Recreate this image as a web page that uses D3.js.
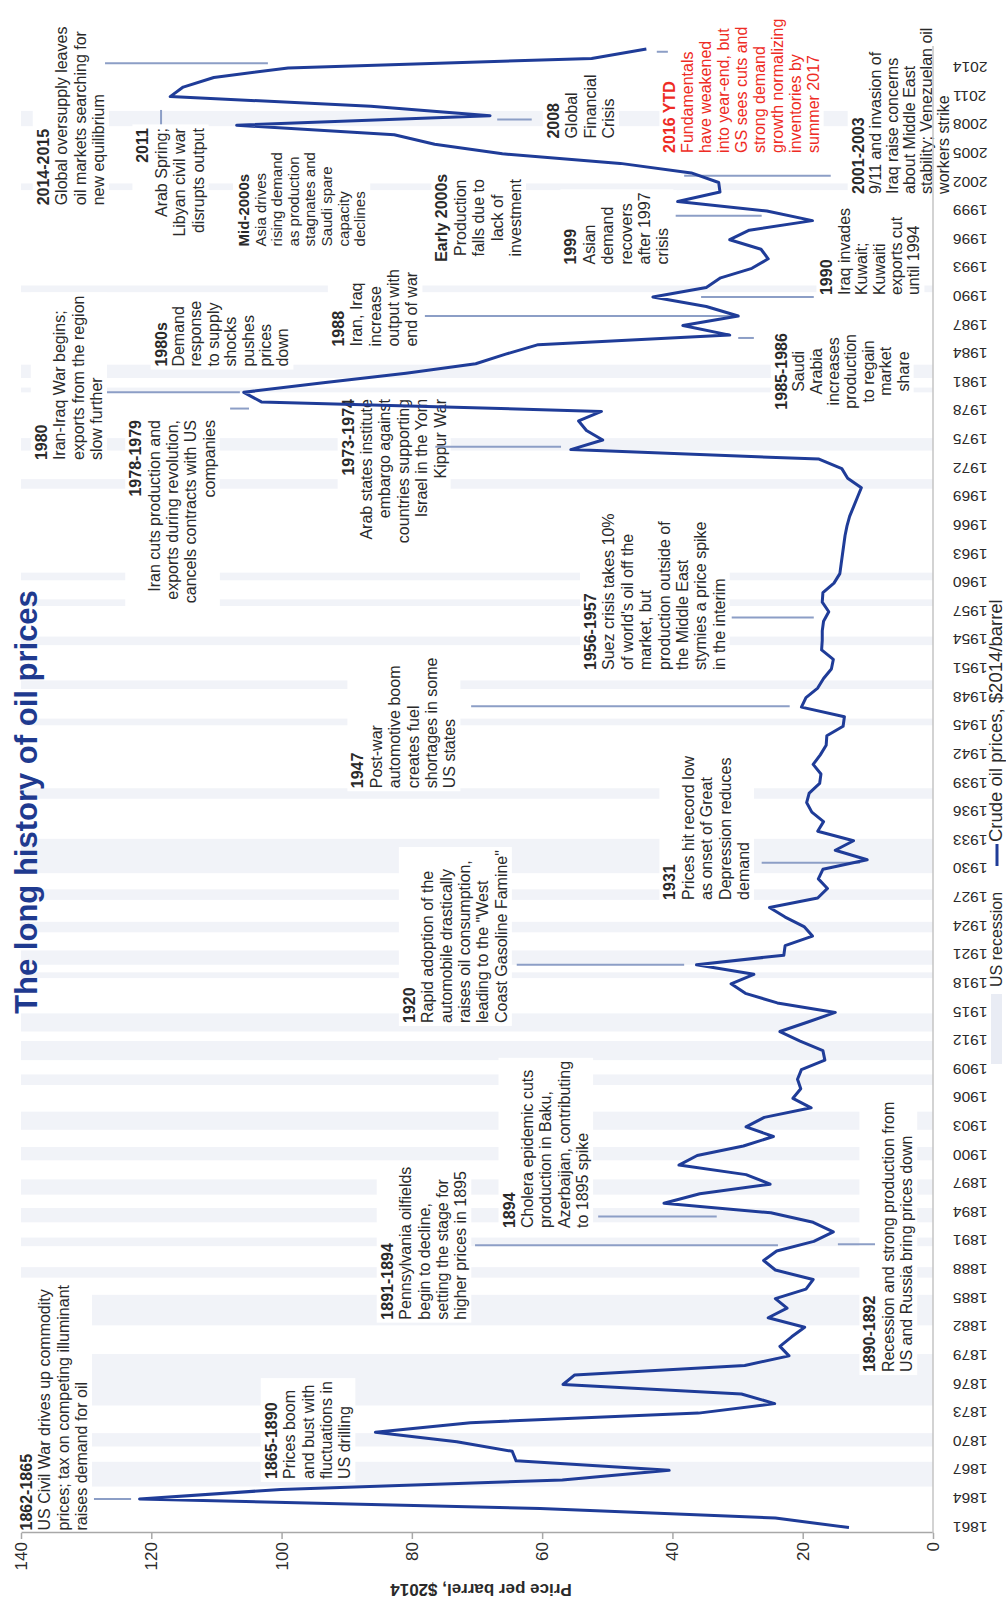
<!DOCTYPE html>
<html>
<head>
<meta charset="utf-8">
<script src="https://cdn.jsdelivr.net/npm/d3@7"></script>
<style>
  body { margin: 0; background: #fff; }
  svg { display: block; }
  text { font-family: "Liberation Sans", Arial, sans-serif; }
</style>
</head>
<body>
<svg id="chart" width="1006" height="1604"></svg>
<script>
// Crude oil prices in 2014 dollars per barrel, one value per year
const years = d3.range(1861, 2017);
const prices = [
  12.9, 24.2, 60.3, 121.8, 100.1, 56.9, 40.5, 64.0, 64.6, 73.1,      // 1861-1870
  85.6, 71.0, 36.0, 24.3, 29.4, 56.8, 55.0, 28.9, 22.1, 23.5,        // 1871-1880
  21.7, 19.7, 25.3, 22.4, 24.2, 19.5, 18.4, 24.2, 26.0, 24.0,        // 1881-1890
  18.3, 15.3, 18.4, 24.9, 41.3, 35.8, 25.0, 28.7, 39.0, 36.2,        // 1891-1900
  29.1, 24.5, 28.7, 25.9, 18.7, 21.5, 20.3, 20.8, 20.2, 16.6,        // 1901-1910
  16.9, 20.4, 23.5, 19.2, 15.0, 23.9, 28.8, 31.0, 27.5, 36.3,        // 1911-1920
  22.9, 22.7, 18.5, 19.8, 22.7, 25.1, 17.7, 16.2, 17.6, 16.9,        // 1921-1930
  10.1, 15.0, 12.2, 17.7, 16.8, 18.6, 19.4, 19.0, 17.4, 17.2,        // 1931-1940
  18.4, 17.3, 16.4, 16.3, 13.8, 13.6, 20.2, 19.5, 17.7, 16.8,        // 1941-1950
  15.6, 15.3, 17.1, 17.0, 17.0, 16.8, 16.0, 17.0, 16.9, 15.2,        // 1951-1960
  14.3, 14.1, 13.9, 13.7, 13.5, 13.2, 12.8, 12.2, 11.6, 11.0,        // 1961-1970
  13.1, 14.0, 17.5, 55.6, 50.7, 53.2, 54.4, 50.9, 103.1, 105.8,      // 1971-1980
  93.6, 80.9, 70.2, 65.6, 60.6, 31.2, 38.4, 29.9, 34.8, 43.0,        // 1981-1990
  34.8, 32.6, 27.8, 25.3, 26.4, 31.2, 28.2, 18.5, 25.5, 39.2,        // 1991-2000
  32.7, 32.9, 37.1, 48.0, 66.1, 76.5, 82.7, 106.9, 68.0, 86.3,       // 2001-2010
  117.1, 115.1, 110.4, 99.0, 52.4, 44.0                              // 2011-2016
];

const yearTicks = d3.range(1861, 2015, 3);
const priceTicks = [0, 20, 40, 60, 80, 100, 120, 140];

// US recession periods (fractional years)
const recessionStart = [1865.3, 1869.5, 1873.8, 1882.2, 1887.2, 1890.5, 1893.0, 1895.9, 1899.5, 1902.7,
  1907.4, 1910.0, 1913.0, 1918.6, 1920.0, 1923.4, 1926.8, 1929.6, 1937.4, 1945.1, 1948.9, 1953.5,
  1957.6, 1960.3, 1969.9, 1973.9, 1980.0, 1981.5, 1990.5, 2001.2, 2007.9];
const recessionEnd = [1867.9, 1870.9, 1879.2, 1885.4, 1888.3, 1891.4, 1894.5, 1897.5, 1900.9, 1904.6,
  1908.5, 1912.0, 1914.9, 1919.2, 1921.5, 1924.5, 1927.9, 1933.2, 1938.5, 1945.8, 1949.8, 1954.4,
  1958.3, 1961.1, 1970.9, 1975.2, 1980.5, 1982.9, 1991.2, 2001.9, 2009.5];

// Event notes: text lines, anchor in (year, price) space, alignment
const notes = [
  { lines: ["2014-2015", "Global oversupply leaves", "oil markets searching for", "new equilibrium"], at: [1999.6, 136.6], anchor: "start" },
  { lines: ["2011", "Arab Spring;", "Libyan civil war", "disrupts output"], at: [2007.7, 121.3], anchor: "end" },
  { lines: ["Mid-2000s", "Asia drives", "rising demand", "as production", "stagnates and", "Saudi spare", "capacity", "declines"], at: [1995.3, 105.8], anchor: "start", fs: 15, lh: 16.6 },
  { lines: ["1980s", "Demand", "response", "to supply", "shocks", "pushes", "prices", "down"], at: [1982.7, 118.5], anchor: "start", lh: 17.4 },
  { lines: ["1988", "Iran, Iraq", "increase", "output with", "end of war"], at: [1984.8, 91.3], anchor: "start" },
  { lines: ["Early 2000s", "Production", "falls due to", "lack of", "investment"], at: [1998.3, 75.4], anchor: "middle" },
  { lines: ["1999", "Asian", "demand", "recovers", "after 1997", "crisis"], at: [1993.4, 55.6], anchor: "start" },
  { lines: ["2008", "Global", "Financial", "Crisis"], at: [2006.6, 58.3], anchor: "start" },
  { lines: ["2016 YTD", "Fundamentals", "have weakened", "into year-end, but", "GS sees cuts and", "strong demand", "growth normalizing", "inventories by", "summer 2017"], at: [2005.1, 40.4], anchor: "start", color: "#ee2b24", lh: 17.9 },
  { lines: ["2001-2003", "9/11 and invasion of", "Iraq raise concerns", "about Middle East", "stability; Venezuelan oil", "workers strike"], at: [2000.8, 11.5], anchor: "start", lh: 17.0 },
  { lines: ["1990", "Iraq invades", "Kuwait;", "Kuwaiti", "exports cut", "until 1994"], at: [1990.2, 16.3], anchor: "start", lh: 17.4 },
  { lines: ["1985-1986", "Saudi", "Arabia", "increases", "production", "to regain", "market", "share"], at: [1982.2, 23.3], anchor: "middle", lh: 17.4 },
  { lines: ["1980", "Iran-Iraq War begins;", "exports from the region", "slow further"], at: [1972.9, 136.9], anchor: "start" },
  { lines: ["1978-1979", "Iran cuts production and", "exports during revolution,", "cancels contracts with US", "companies"], at: [1977.1, 122.4], anchor: "end" },
  { lines: ["1973-1974", "Arab states institute", "embargo against", "countries supporting", "Israel in the Yom", "Kippur War"], at: [1979.3, 89.8], anchor: "end" },
  { lines: ["1947", "Post-war", "automotive boom", "creates fuel", "shortages in some", "US states"], at: [1938.5, 88.3], anchor: "start" },
  { lines: ["1956-1957", "Suez crisis takes 10%", "of world's oil off the", "market, but", "production outside of", "the Middle East", "stymies a price spike", "in the interim"], at: [1950.9, 52.6], anchor: "start" },
  { lines: ["1931", "Prices hit record low", "as onset of Great", "Depression reduces", "demand"], at: [1926.8, 40.4], anchor: "start" },
  { lines: ["1920", "Rapid adoption of the", "automobile drastically", "raises oil consumption,", "leading to the \"West", "Coast Gasoline Famine\""], at: [1913.9, 80.4], anchor: "start" },
  { lines: ["1891-1894", "Pennsylvania oilfields", "begin to decline,", "setting the stage for", "higher prices in 1895"], at: [1882.8, 83.8], anchor: "start" },
  { lines: ["1894", "Cholera epidemic cuts", "production in Baku,", "Azerbaijan, contributing", "to 1895 spike"], at: [1892.4, 65.1], anchor: "start" },
  { lines: ["1890-1892", "Recession and strong production from", "US and Russia bring prices down"], at: [1877.3, 9.7], anchor: "start" },
  { lines: ["1862-1865", "US Civil War drives up commodity", "prices; tax on competing illuminant", "raises demand for oil"], at: [1860.7, 139.2], anchor: "start" },
  { lines: ["1865-1890", "Prices boom", "and bust with", "fluctuations in", "US drilling"], at: [1866.1, 101.6], anchor: "start" }
];

// Leader lines: [year1, price1, year2, price2]
const leaders = [
  [2014.5, 127.1, 2014.5, 102.1],
  [2008.1, 118.5, 2009.6, 118.5],
  [1988.0, 78.0, 1988.0, 30.1],
  [1998.5, 39.5, 1998.5, 26.3],
  [2008.6, 66.9, 2008.6, 61.6],
  [2015.7, 42.4, 2015.7, 40.7],
  [2002.7, 38.2, 2002.7, 15.7],
  [1990.0, 35.6, 1990.0, 18.3],
  [1985.7, 29.9, 1985.7, 27.5],
  [1980.0, 126.8, 1980.0, 106.4],
  [1978.3, 107.9, 1978.3, 105.0],
  [1974.3, 76.4, 1974.3, 57.1],
  [1947.1, 70.9, 1947.1, 22.0],
  [1956.4, 30.9, 1956.4, 18.3],
  [1930.7, 26.3, 1930.7, 11.2],
  [1920.0, 63.9, 1920.0, 38.2],
  [1890.6, 70.3, 1890.6, 23.8],
  [1893.6, 51.4, 1893.6, 33.2],
  [1890.7, 14.6, 1890.7, 8.9],
  [1864.0, 128.8, 1864.0, 123.1]
];

const lineColor = "#1f3c98";
const bandColor = "#f1f3f8";
const leaderColor = "#8c9ec6";
const inkColor = "#2a2a2a";

// The chart is laid out landscape and turned a quarter turn counter-clockwise onto the page
const svg = d3.select("#chart");
const g = svg.append("g").attr("transform", "translate(0,1604) rotate(-90)");

const x = d3.scaleLinear().domain([1861, 2016]).range([76.4, 1555.1]);
const y = d3.scaleLinear().domain([0, 140]).range([933, 21]);

// Recession shading
g.append("g").selectAll("rect")
  .data(d3.zip(recessionStart, recessionEnd))
  .join("rect")
  .attr("x", d => x(d[0]))
  .attr("width", d => x(d[1]) - x(d[0]))
  .attr("y", y(140))
  .attr("height", y(0) - y(140))
  .attr("fill", bandColor);

// Notes: all white backing boxes go under all the text
const boxLayer = g.append("g");
const noteLayer = g.append("g");
notes.forEach(n => {
  const fs = n.fs || 16, lh = n.lh || 18.4;
  const t = noteLayer.append("text")
    .attr("font-size", fs)
    .attr("fill", n.color || inkColor)
    .attr("text-anchor", n.anchor);
  n.lines.forEach((ln, i) => {
    t.append("tspan")
      .attr("x", x(n.at[0]))
      .attr("y", y(n.at[1]) + i * lh)
      .attr("dy", "0.35em")
      .attr("font-weight", i === 0 ? "bold" : null)
      .text(ln);
  });
  const bb = t.node().getBBox();
  boxLayer.append("rect")
    .attr("x", bb.x - 3).attr("y", bb.y - 2)
    .attr("width", bb.width + 6).attr("height", bb.height + 4)
    .attr("fill", "#fff");
});

// Leaders
g.append("g").selectAll("line")
  .data(leaders)
  .join("line")
  .attr("x1", d => x(d[0])).attr("y1", d => y(d[1]))
  .attr("x2", d => x(d[2])).attr("y2", d => y(d[3]))
  .attr("stroke", leaderColor)
  .attr("stroke-width", 2);

// Price axis
const axisX0 = x.range()[0] - 5.4;
const ya = g.append("g")
  .attr("transform", `translate(${axisX0},0)`)
  .call(d3.axisLeft(y).tickValues(priceTicks).tickSize(6).tickSizeOuter(0).tickPadding(3));
ya.attr("font-family", null);
ya.select(".domain").attr("stroke", "#a8a8a8").attr("stroke-width", 1.5);
ya.selectAll(".tick line").attr("stroke", "#a8a8a8").attr("stroke-width", 1.5);
ya.selectAll(".tick text").attr("font-size", 17).attr("fill", inkColor);

// Year axis
const xa = g.append("g")
  .attr("transform", `translate(0,${y(0)})`)
  .call(d3.axisBottom(x).tickValues(yearTicks).tickFormat(d3.format("d")).tickSize(0).tickSizeOuter(0));
xa.attr("font-family", null);
xa.select(".domain").remove();
xa.selectAll(".tick text")
  .attr("transform", "rotate(-90)")
  .attr("text-anchor", "end")
  .attr("x", -20).attr("y", 0).attr("dy", "0.35em")
  .attr("font-size", 15.5)
  .attr("fill", inkColor);
g.append("line")
  .attr("x1", axisX0).attr("x2", x(2016) + 3)
  .attr("y1", y(0)).attr("y2", y(0))
  .attr("stroke", "#c4c4c4").attr("stroke-width", 1.5);

// Price series
g.append("path")
  .datum(d3.zip(years, prices))
  .attr("fill", "none")
  .attr("stroke", lineColor)
  .attr("stroke-width", 3)
  .attr("stroke-linejoin", "round")
  .attr("d", d3.line().x(d => x(d[0])).y(d => y(d[1])));

// Title
g.append("text")
  .attr("x", 802).attr("y", 37)
  .attr("text-anchor", "middle")
  .attr("font-size", 31).attr("font-weight", "bold")
  .attr("fill", "#1f3a8f")
  .text("The long history of oil prices");

// Axis title
g.append("text")
  .attr("transform", `translate(14,${(y(0) + y(140)) / 2 + 4}) rotate(-90)`)
  .attr("text-anchor", "middle").attr("dy", "0.35em")
  .attr("font-size", 17).attr("font-weight", "bold")
  .attr("fill", inkColor)
  .text("Price per barrel, $2014");

// Legend along the outer edge
const lg = g.append("g").attr("transform", "translate(0,1002)");
lg.append("rect").attr("x", 540).attr("y", -11).attr("width", 70).attr("height", 11).attr("fill", "#e9ecf4");
lg.append("text").attr("x", 617).attr("y", 0).attr("font-size", 16).attr("fill", inkColor).text("US recession");
lg.append("line").attr("x1", 738).attr("x2", 760).attr("y1", -5).attr("y2", -5).attr("stroke", lineColor).attr("stroke-width", 3);
lg.append("text").attr("x", 762).attr("y", 0).attr("font-size", 18.5).attr("fill", inkColor).text("Crude oil prices, $2014/barrel");
</script>
</body>
</html>
